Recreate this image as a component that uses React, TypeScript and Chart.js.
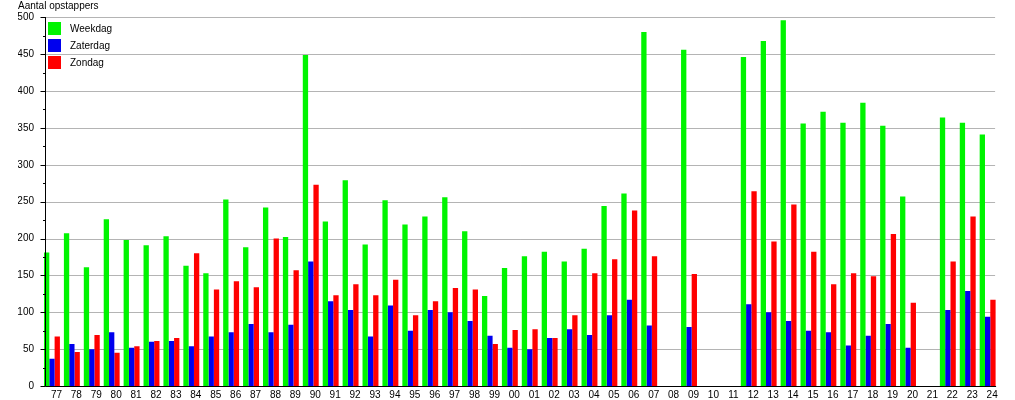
import React, { useEffect, useRef } from "react";
import { Chart, registerables } from "chart.js";

Chart.register(...registerables);

const categories = [
  "77", "78", "79", "80", "81", "82", "83", "84", "85", "86", "87", "88", "89", "90", "91", "92",
  "93", "94", "95", "96", "97", "98", "99", "00", "01", "02", "03", "04", "05", "06", "07", "08",
  "09", "10", "11", "12", "13", "14", "15", "16", "17", "18", "19", "20", "21", "22", "23", "24",
];

const weekdag = [
  181, 207, 161, 226, 198, 191, 203, 163, 153, 253, 188, 242, 202, 449, 223, 279,
  192, 252, 219, 230, 256, 210, 122, 160, 176, 182, 169, 186, 244, 261, 480, null,
  456, null, null, 446, 468, 496, 356, 372, 357, 384, 353, 257, null, 364, 357, 341,
];

const zaterdag = [
  37, 57, 50, 73, 52, 60, 61, 54, 67, 73, 84, 73, 83, 169, 115, 103,
  67, 109, 75, 103, 100, 88, 68, 52, 50, 65, 77, 69, 96, 117, 82, null,
  80, null, null, 111, 100, 88, 75, 73, 55, 68, 84, 52, null, 103, 129, 94,
];

const zondag = [
  67, 46, 69, 45, 54, 61, 65, 180, 131, 142, 134, 200, 157, 273, 123, 138,
  123, 144, 96, 115, 133, 131, 57, 76, 77, 65, 96, 153, 172, 238, 176, null,
  152, null, null, 264, 196, 246, 182, 138, 153, 149, 206, 113, null, 169, 230, 117,
];

const seriesLabels = ["Weekdag", "Zaterdag", "Zondag"];
const seriesColors = ["#00f400", "#0000ee", "#ff0000"];
const yTicks = [0, 50, 100, 150, 200, 250, 300, 350, 400, 450, 500];
const yMinorTicks = [25, 75, 125, 175, 225, 275, 325, 375, 425, 475];
const titleText = "Aantal opstappers";

const FONT = "'Liberation Sans', Arial, Helvetica, sans-serif";

const decorPlugin = {
  id: "decor",
  beforeDatasetsDraw(chart: any) {
    const { ctx, chartArea, scales } = chart;
    const y = scales.y;
    const axisX = chartArea.left + 3;
    ctx.save();
    ctx.strokeStyle = "#b4b4b4";
    ctx.lineWidth = 1;
    for (const v of yTicks) {
      if (v === 0) continue;
      const py = Math.round(y.getPixelForValue(v)) + 0.5;
      ctx.beginPath();
      ctx.moveTo(axisX, py);
      ctx.lineTo(chartArea.right - 2.5, py);
      ctx.stroke();
    }
    ctx.restore();
  },
  afterDatasetsDraw(chart: any) {
    const { ctx, chartArea, scales } = chart;
    const y = scales.y;
    const axisX = Math.round(chartArea.left + 3) + 0.5;
    const bottom = Math.round(y.getPixelForValue(0)) + 0.5;
    const top = Math.round(y.getPixelForValue(500));
    ctx.save();
    ctx.strokeStyle = "#000";
    ctx.lineWidth = 1;
    ctx.beginPath();
    ctx.moveTo(axisX, top);
    ctx.lineTo(axisX, bottom);
    ctx.moveTo(axisX, bottom);
    ctx.lineTo(chartArea.right - 1.5, bottom);
    for (const v of yTicks) {
      const py = Math.round(y.getPixelForValue(v)) + 0.5;
      ctx.moveTo(axisX - 5, py);
      ctx.lineTo(axisX, py);
    }
    for (const v of yMinorTicks) {
      const py = Math.round(y.getPixelForValue(v)) + 0.5;
      ctx.moveTo(axisX - 2.5, py);
      ctx.lineTo(axisX, py);
    }
    ctx.stroke();

    // legend
    const bx = chartArea.left + 6;
    const by = chartArea.top + 4.7;
    ctx.font = `10px ${FONT}`;
    ctx.textBaseline = "middle";
    ctx.textAlign = "left";
    chart.data.datasets.forEach((ds: any, i: number) => {
      const yy = by + i * 17;
      ctx.fillStyle = ds.backgroundColor;
      ctx.fillRect(bx, yy, 13, 13);
      ctx.fillStyle = "#000";
      ctx.fillText(ds.label, bx + 22, yy + 7);
    });
    ctx.restore();
  },
};

export default function App() {
  const ref = useRef<HTMLCanvasElement | null>(null);

  useEffect(() => {
    if (!ref.current) return;
    Chart.defaults.font.family = FONT;
    Chart.defaults.font.size = 10;
    Chart.defaults.color = "#000";
    const chart = new Chart(ref.current, {
      type: "bar",
      data: {
        labels: categories,
        datasets: [weekdag, zaterdag, zondag].map((d, i) => ({
          label: seriesLabels[i],
          data: d,
          backgroundColor: seriesColors[i],
          borderWidth: 0,
          barPercentage: 1,
          categoryPercentage: 0.8,
        })),
      },
      options: {
        animation: false,
        responsive: false,
        maintainAspectRatio: false,
        layout: { padding: { left: 18, top: 0, right: 17.4, bottom: 0 } },
        plugins: {
          legend: { display: false },
          tooltip: { enabled: false },
          title: {
            display: true,
            text: titleText,
            align: "start",
            color: "#000",
            font: { size: 10, weight: "normal", family: FONT },
            padding: { top: 0.5, bottom: 4.8 },
          },
        },
        scales: {
          x: {
            offset: true,
            grid: { display: false, drawTicks: false },
            border: { display: false },
            ticks: {
              autoSkip: false,
              maxRotation: 0,
              padding: 3,
              labelOffset: 4.5,
              color: "#000",
              font: { size: 10, family: FONT },
            },
            afterFit: (s: any) => {
              s.height = 12.7;
            },
          },
          y: {
            min: 0,
            max: 500,
            grid: { display: false, drawTicks: false },
            border: { display: false },
            ticks: {
              stepSize: 50,
              padding: 8,
              color: "#000",
              font: { size: 10, family: FONT },
            },
            afterFit: (s: any) => {
              s.width = 24;
            },
          },
        },
      },
      plugins: [decorPlugin],
    } as any);
    return () => chart.destroy();
  }, []);

  return (
    <div style={{ position: "fixed", left: 0, top: 0, width: 1015, height: 400, background: "#fff" }}>
      <canvas ref={ref} width={1015} height={400} style={{ width: 1015, height: 400, display: "block" }} />
    </div>
  );
}
